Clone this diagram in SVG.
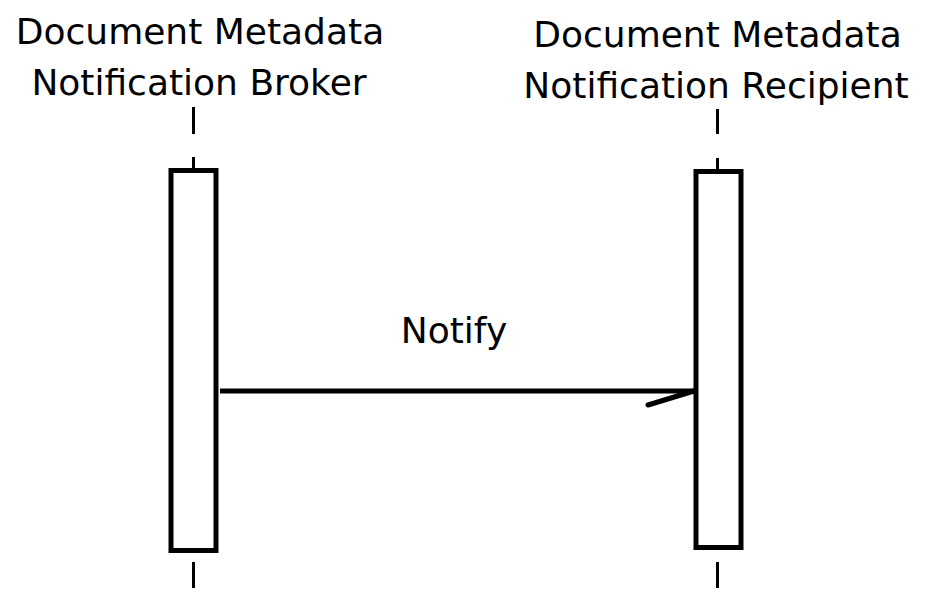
<svg xmlns="http://www.w3.org/2000/svg" width="934" height="610" viewBox="0 0 934 610">
<style>
.lbl{font-family:"DejaVu Sans",sans-serif;font-size:36px;fill:#000;text-anchor:middle}
.life{stroke:#000;stroke-width:3;fill:none}
.act{stroke:#000;stroke-width:5;fill:#fff}
.msg{stroke:#000;stroke-width:5;fill:none}
</style>
<rect width="934" height="610" fill="#fff"/>
<g id="broker">
<text class="lbl" x="200" y="44">Document Metadata</text>
<text class="lbl" x="199" y="95">Notification Broker</text>
<line class="life" x1="193.5" y1="107" x2="193.5" y2="134"/>
<line class="life" x1="193.5" y1="157" x2="193.5" y2="171"/>
<line class="life" x1="193.5" y1="562" x2="193.5" y2="588"/>
<rect class="act" x="171" y="170.5" width="45" height="380"/>
</g>
<g id="recipient">
<text class="lbl" x="717.5" y="47">Document Metadata</text>
<text class="lbl" x="716" y="98">Notification Recipient</text>
<line class="life" x1="717.5" y1="109" x2="717.5" y2="134"/>
<line class="life" x1="717.5" y1="158" x2="717.5" y2="172"/>
<line class="life" x1="717.5" y1="562" x2="717.5" y2="588"/>
<rect class="act" x="696" y="171.5" width="45" height="376"/>
</g>
<g id="connectors">
<line class="msg" x1="220" y1="391" x2="694" y2="391"/>
<line class="msg" x1="694" y1="391" x2="648" y2="405" stroke-linecap="round"/>
<text class="lbl" x="454" y="343">Notify</text>
</g>
</svg>
